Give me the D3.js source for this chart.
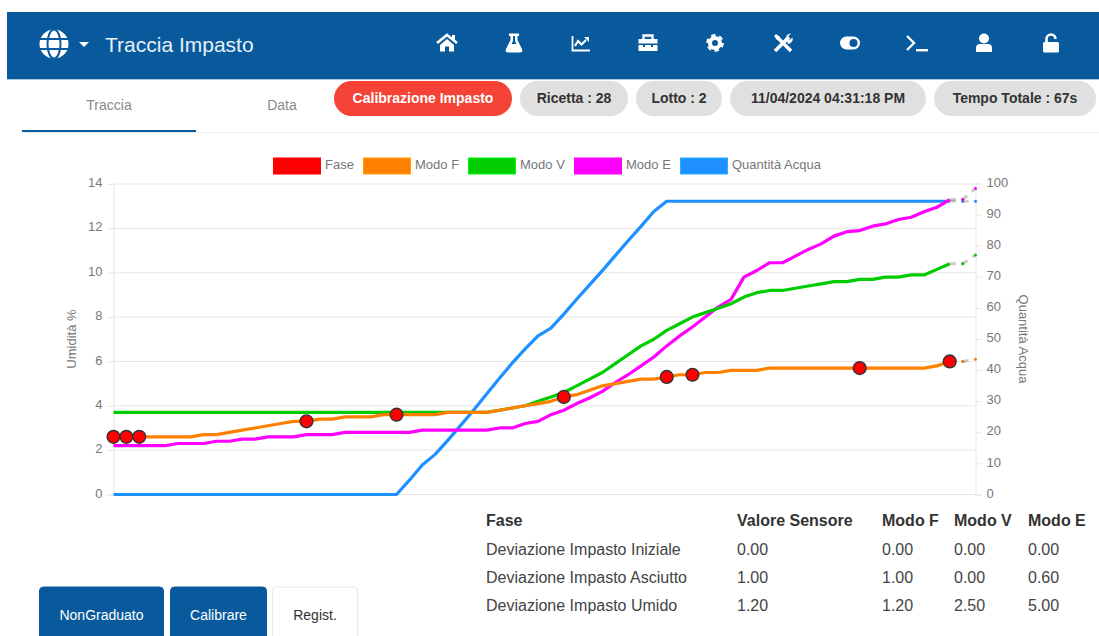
<!DOCTYPE html>
<html><head><meta charset="utf-8">
<script src="https://cdn.jsdelivr.net/npm/d3@7"></script>
<style>html,body{margin:0;padding:0;background:#fff;overflow:hidden}svg{display:block}</style>
</head><body><svg id="c" width="1099" height="636"></svg>
<script>
const modoF=[2.6,2.6,2.6,2.6,2.6,2.6,2.6,2.7,2.7,2.8,2.9,3.0,3.1,3.2,3.3,3.3,3.4,3.4,3.5,3.5,3.5,3.6,3.6,3.6,3.6,3.6,3.7,3.7,3.7,3.7,3.8,3.9,4.0,4.1,4.2,4.4,4.5,4.7,4.9,5.0,5.1,5.2,5.2,5.3,5.4,5.4,5.5,5.5,5.6,5.6,5.6,5.7,5.7,5.7,5.7,5.7,5.7,5.7,5.7,5.7,5.7,5.7,5.7,5.7,5.8,6.0,6.0,6.1];
const modoV=[3.7,3.7,3.7,3.7,3.7,3.7,3.7,3.7,3.7,3.7,3.7,3.7,3.7,3.7,3.7,3.7,3.7,3.7,3.7,3.7,3.7,3.7,3.7,3.7,3.7,3.7,3.7,3.7,3.7,3.7,3.8,3.9,4.0,4.2,4.4,4.6,4.9,5.2,5.5,5.9,6.3,6.7,7.0,7.4,7.7,8.0,8.2,8.4,8.6,8.9,9.1,9.2,9.2,9.3,9.4,9.5,9.6,9.6,9.7,9.7,9.8,9.8,9.9,9.9,10.15,10.4,10.4,10.8];
const modoE=[2.2,2.2,2.2,2.2,2.2,2.3,2.3,2.3,2.4,2.4,2.5,2.5,2.6,2.6,2.6,2.7,2.7,2.7,2.8,2.8,2.8,2.8,2.8,2.8,2.9,2.9,2.9,2.9,2.9,2.9,3.0,3.0,3.2,3.3,3.6,3.8,4.1,4.35,4.65,5.05,5.4,5.8,6.2,6.7,7.15,7.55,8.0,8.45,8.8,9.8,10.1,10.45,10.45,10.75,11.05,11.3,11.65,11.85,11.9,12.1,12.2,12.4,12.5,12.75,12.95,13.3,13.3,13.8];
const acqua=[0,0,0,0,0,0,0,0,0,0,0,0,0,0,0,0,0,0,0,0,0,0,0,4.6,9.5,12.9,17.5,22.3,27.2,32.3,37.4,42.3,46.8,51,53.5,58,62.8,67.4,72,76.8,81.6,86.2,91,94.3,94.3,94.3,94.3,94.3,94.3,94.3,94.3,94.3,94.3,94.3,94.3,94.3,94.3,94.3,94.3,94.3,94.3,94.3,94.3,94.3,94.3,94.3,94.3,94.3];
const faseIdx=[0,1,2,15,22,35,43,45,58,65];
const lastSolid=65;
const legendNames=["Fase","Modo F","Modo V","Modo E","Quantità Acqua"];
const legendColors=["#ff0000","#ff8000","#00cc00","#ff00ff","#1e90ff"];
const pills=["Calibrazione Impasto","Ricetta : 28","Lotto : 2","11/04/2024 04:31:18 PM","Tempo Totale : 67s"];
const pillLeft=[334,520,636,730,934], pillRight=[512,628,722,926,1096];
const tableHead=["Fase","Valore Sensore","Modo F","Modo V","Modo E"];
const tableRows=[["Deviazione Impasto Iniziale","0.00","0.00","0.00","0.00"],["Deviazione Impasto Asciutto","1.00","1.00","0.00","0.60"],["Deviazione Impasto Umido","1.20","1.20","2.50","5.00"]];
const tableX=[486,737,882,954,1028];
const buttons=["NonGraduato","Calibrare","Regist."];

const HEAD="#085a9c", SANS="'Liberation Sans', Arial, sans-serif";
const svg=d3.select("#c");
// header
svg.append("rect").attr("x",7).attr("y",12).attr("width",1092).attr("height",67).attr("fill",HEAD);
svg.append("rect").attr("x",7).attr("y",79).attr("width",1092).attr("height",1).attr("fill","#a9cbe6");
svg.append("text").attr("x",105).attr("y",52).attr("font-family",SANS).attr("font-size",21).attr("fill","#e8f0f7").text("Traccia Impasto");
const ic=(x,y)=>svg.append("g").attr("transform",`translate(${x},${y})`).attr("fill","#fff");
let g=ic(54,44); g.append("circle").attr("r",14.5);
g.append("ellipse").attr("rx",6.5).attr("ry",14.5).attr("fill","none").attr("stroke",HEAD).attr("stroke-width",2);
g.append("path").attr("d","M-15 -5H15M-15 5H15").attr("stroke",HEAD).attr("stroke-width",2);
ic(84,44).append("path").attr("d","M-5 -2H5L0 3Z");
g=ic(447,43); g.append("path").attr("d","M-10 0L0 -8L10 0").attr("fill","none").attr("stroke","#fff").attr("stroke-width",2.6);
g.append("path").attr("d","M5 -8H8V-2L5 -4Z");
g.append("path").attr("d","M-7 2L0 -4L7 2V8.5H2V3.5H-2V8.5H-7Z");
g=ic(514,43); g.append("path").attr("d","M-5 -9.5H5V-7H3.5V-3L8 6Q9.5 9.5 6 9.5H-6Q-9.5 9.5 -8 6L-3.5 -3V-7H-5ZM-1 -7V-2L-2.5 1H2.5L1 -2V-7Z").attr("fill-rule","evenodd");
g=ic(581,43); g.append("path").attr("d","M-8.5 -7V7.5H9").attr("fill","none").attr("stroke","#fff").attr("stroke-width",1.8);
g.append("path").attr("d","M-6 3L-3 -2L0.5 1.5L5 -3").attr("fill","none").attr("stroke","#fff").attr("stroke-width",2.2);
g.append("path").attr("d","M3 -6H8V-1Z");
g=ic(648,43); g.append("path").attr("d","M-4.5 -3V-7.5H4.5V-3").attr("fill","none").attr("stroke","#fff").attr("stroke-width",2.4);
g.append("path").attr("d","M-9.5 -4H9.5V0.5H-9.5ZM-9.5 2H-5V4H-3V2H3V4H5V2H9.5V8H-9.5Z");
g=ic(715,43); g.append("circle").attr("r",5).attr("fill","none").attr("stroke","#fff").attr("stroke-width",4);
g.append("circle").attr("r",7.6).attr("fill","none").attr("stroke","#fff").attr("stroke-width",2.6).attr("stroke-dasharray","4.2 3.76");
g=ic(783,43); g.append("path").attr("d","M-6 -6L8 8").attr("stroke","#fff").attr("stroke-width",3.6);
g.append("path").attr("d","M-8 8L6 -6").attr("stroke","#fff").attr("stroke-width",3.6);
g.append("path").attr("d","M-9 -7L-7 -9L-3 -6L-6 -3Z");
g.append("path").attr("d","M3 -5A5 5 0 0 1 8 -9.5L5 -6.5L6.5 -3L9.5 -5.5A5 5 0 0 1 5 1Z");
g=ic(850,43); g.append("rect").attr("x",-10).attr("y",-6.5).attr("width",20).attr("height",13).attr("rx",6.5);
g.append("circle").attr("cx",3.5).attr("r",4).attr("fill",HEAD);
g=ic(917,43); g.append("path").attr("d","M-10 -7L-3 0L-10 7").attr("fill","none").attr("stroke","#fff").attr("stroke-width",2.4);
g.append("rect").attr("x",-1).attr("y",6).attr("width",12).attr("height",2.4);
g=ic(984,43); g.append("circle").attr("cy",-4.5).attr("r",5);
g.append("path").attr("d","M-8 9V5Q-8 1 -4 1H4Q8 1 8 5V9Z");
g=ic(1051,43); g.append("rect").attr("x",-8).attr("y",-1).attr("width",16).attr("height",10.5).attr("rx",1.5);
g.append("path").attr("d","M-4.5 0V-4A4.5 4.5 0 0 1 4.5 -4").attr("fill","none").attr("stroke","#fff").attr("stroke-width",2.6);
// tabs
svg.append("rect").attr("x",22).attr("y",132).attr("width",1077).attr("height",1).attr("fill","#eeeeee");
svg.append("rect").attr("x",22).attr("y",130).attr("width",174).attr("height",2).attr("fill",HEAD);
svg.selectAll(".tab").data(["Traccia","Data"]).join("text").attr("class","tab").attr("x",(d,i)=>[109,282][i]).attr("y",110).attr("text-anchor","middle").attr("font-family",SANS).attr("font-size",14).attr("fill","#8a8a8a").text(d=>d);
// pills
svg.selectAll(".pill").data(pills).join("rect").attr("class","pill").attr("x",(d,i)=>pillLeft[i]).attr("y",81).attr("height",35).attr("rx",17.5).attr("width",(d,i)=>pillRight[i]-pillLeft[i]).attr("fill",(d,i)=>i?"#e0e0e0":"#f44336");
svg.selectAll(".pillT").data(pills).join("text").attr("class","pillT").attr("x",(d,i)=>(pillLeft[i]+pillRight[i])/2).attr("y",103).attr("text-anchor","middle").attr("font-family",SANS).attr("font-weight",700).attr("font-size",14).attr("fill",(d,i)=>i?"#333":"#fff").text(d=>d);

// chart
const x=d3.scaleLinear().domain([0,modoF.length-1]).range([113.5,975.5]);
const yL=d3.scaleLinear().domain([0,14]).range([494.5,184]);
const yR=d3.scaleLinear().domain([0,100]).range([494.5,183.5]);
const GRID="#e6e6e6", TXT="#777";
const axL=svg.append("g").attr("transform","translate(113.5,0)").call(d3.axisLeft(yL).tickValues(d3.range(0,15,2)).tickSize(6).tickPadding(5).tickFormat(d3.format("d")));
const axR=svg.append("g").attr("transform","translate(975.5,0)").call(d3.axisRight(yR).tickValues(d3.range(0,101,10)).tickSize(6).tickPadding(5).tickFormat(d3.format("d")));
[axL,axR].forEach(a=>{a.selectAll("path,line").attr("stroke",GRID);a.selectAll("text").attr("font-family",SANS).attr("font-size",13).attr("fill",TXT).attr("dy","0.2em");});
svg.insert("g",":first-child").selectAll("line").data(d3.range(0,15,2)).join("line").attr("x1",113.5).attr("x2",975.5).attr("y1",d=>yL(d)).attr("y2",d=>yL(d)).attr("stroke",GRID);
svg.append("text").attr("transform","translate(76,339) rotate(-90)").attr("text-anchor","middle").attr("font-family",SANS).attr("font-size",13).attr("fill",TXT).text("Umidità %");
svg.append("text").attr("transform","translate(1019,339) rotate(90)").attr("text-anchor","middle").attr("font-family",SANS).attr("font-size",13).attr("fill",TXT).text("Quantità Acqua");

const series=[{v:modoF,y:yL,c:legendColors[1]},{v:modoV,y:yL,c:legendColors[2]},{v:modoE,y:yL,c:legendColors[3]},{v:acqua,y:yR,c:legendColors[4]}];
const order=[3,2,1,0];
order.forEach(k=>{const s=series[k];
  const line=d3.line().x((d,i)=>x(i)).y(d=>s.y(d));
  svg.append("path").attr("d",line(s.v.slice(0,lastSolid+1))).attr("fill","none").attr("stroke",s.c).attr("stroke-width",3.2).attr("stroke-linejoin","round");
  [lastSolid,lastSolid+1].forEach(i=>{
    svg.append("line").attr("x1",x(i)).attr("y1",s.y(s.v[i])).attr("x2",x(i+1)).attr("y2",s.y(s.v[i+1])).attr("stroke","rgba(0,0,0,.2)").attr("stroke-width",3).attr("stroke-dasharray","6 6");
    svg.append("circle").attr("cx",x(i+1)).attr("cy",s.y(s.v[i+1])).attr("r",1.5).attr("fill",s.c);
  });
});
svg.selectAll(".fase").data(faseIdx).join("circle").attr("class","fase").attr("cx",d=>x(d)).attr("cy",d=>yL(modoF[d])).attr("r",6.4).attr("fill","#ff0000").attr("stroke","#333").attr("stroke-width",1.4);

// legend
const lgX=[273,363,468,574,680];
svg.selectAll(".lg").data(legendNames).join("rect").attr("class","lg").attr("x",(d,i)=>lgX[i]+.5).attr("y",158).attr("width",47).attr("height",16).attr("fill",(d,i)=>legendColors[i]).attr("stroke",(d,i)=>d3.color(legendColors[i]).brighter(.6)).attr("stroke-width",1);
svg.selectAll(".lgT").data(legendNames).join("text").attr("class","lgT").attr("x",(d,i)=>lgX[i]+52).attr("y",169).attr("font-family",SANS).attr("font-size",13).attr("fill",TXT).text(d=>d);

// table
svg.selectAll(".th").data(tableHead).join("text").attr("class","th").attr("x",(d,i)=>tableX[i]).attr("y",526).attr("font-family",SANS).attr("font-weight",700).attr("font-size",16).attr("fill","#333").text(d=>d);
tableRows.forEach((r,ri)=>{svg.selectAll(".tr"+ri).data(r).join("text").attr("class","tr"+ri).attr("x",(d,i)=>tableX[i]).attr("y",555+28*ri).attr("font-family",SANS).attr("font-size",16).attr("fill","#444").text(d=>d);});

// buttons
const bL=[39,170,272],bR=[164,267,358];
svg.selectAll(".bt").data(buttons).join("path").attr("class","bt").attr("d",(d,i)=>`M${bL[i]+.5} 640V591a4 4 0 0 1 4 -4H${bR[i]-4.5}a4 4 0 0 1 4 4V640Z`).attr("fill",(d,i)=>i<2?HEAD:"#fff").attr("stroke",(d,i)=>i<2?HEAD:"#e8e8e8");
svg.selectAll(".btT").data(buttons).join("text").attr("class","btT").attr("x",(d,i)=>(bL[i]+bR[i])/2).attr("y",620).attr("text-anchor","middle").attr("font-family",SANS).attr("font-size",14).attr("fill",(d,i)=>i<2?"#fff":"#333").text(d=>d);
</script></body></html>
